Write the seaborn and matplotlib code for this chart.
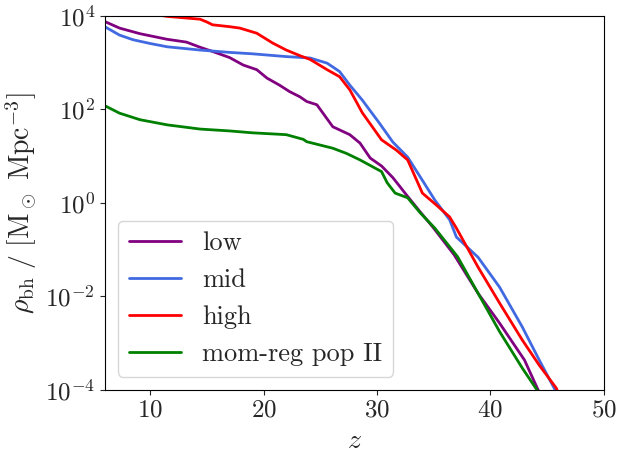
import seaborn as sns
import matplotlib
matplotlib.use("Agg")
import matplotlib.pyplot as plt
import matplotlib.ticker as mticker
import pandas as pd
import numpy as np

sns.set_style("ticks")
plt.rcParams['font.family'] = ['cmr10', 'DejaVu Serif']
plt.rcParams['mathtext.fontset'] = 'cm'
plt.rcParams['axes.unicode_minus'] = False
plt.rcParams['axes.formatter.use_mathtext'] = True

# values (z, log10 rho_bh)
z_low = [6, 7.3, 9.1, 11.5, 13.2, 14.4, 15.5, 17.0, 18.2, 19.4, 20.3, 21.4, 22.3, 23.2,
         23.8, 24.7, 26.1, 27.6, 28.5, 29.4, 30.4, 31.4, 32.6, 33.8, 34.9, 36.8, 38.9,
         40.8, 43.0, 44.2, 44.8]
lg_low = [3.88, 3.74, 3.62, 3.50, 3.44, 3.33, 3.24, 3.11, 2.95, 2.85, 2.67, 2.52, 2.38, 2.27,
          2.17, 2.10, 1.63, 1.46, 1.28, 0.96, 0.79, 0.54, 0.17, -0.19, -0.51, -1.11, -1.93,
          -2.57, -3.36, -4.0, -4.3]

z_mid = [6, 7.3, 8.5, 10.0, 11.5, 14.4, 17.0, 19.0, 22.0, 24.1, 25.6, 26.7, 27.6, 28.7,
         30.2, 31.4, 32.7, 33.8, 35.1, 36.4, 37.0, 38.9, 40.8, 42.8, 44.3, 45.7, 46.3]
lg_mid = [3.77, 3.59, 3.49, 3.41, 3.34, 3.27, 3.22, 3.19, 3.13, 3.10, 2.99, 2.81, 2.52, 2.20,
          1.71, 1.30, 0.98, 0.56, 0.06, -0.36, -0.73, -1.16, -1.80, -2.65, -3.36, -4.0, -4.3]

z_high = [6, 11.5, 14.4, 15.0, 15.5, 17.0, 17.9, 19.4, 20.8, 22.0, 23.2, 24.1, 25.6, 26.7,
          27.6, 28.7, 30.4, 31.7, 32.7, 34.0, 35.3, 36.4, 37.0, 38.9, 40.8, 42.8, 44.3,
          45.8, 46.4]
lg_high = [4.20, 3.99, 3.93, 3.87, 3.81, 3.77, 3.74, 3.63, 3.42, 3.27, 3.15, 3.07, 2.85, 2.70,
           2.42, 1.93, 1.35, 1.13, 0.92, 0.21, -0.06, -0.30, -0.54, -1.37, -2.14, -2.93, -3.47,
           -3.96, -4.3]

z_pop2 = [6, 7.3, 9.1, 11.5, 14.4, 17.0, 19.0, 22.0, 23.5, 23.8, 26.1, 27.3, 28.5, 30.4,
          30.9, 31.6, 32.7, 33.8, 35.1, 37.1, 38.9, 40.8, 42.8, 44.1, 44.6]
lg_pop2 = [2.08, 1.92, 1.78, 1.67, 1.58, 1.54, 1.50, 1.46, 1.36, 1.31, 1.17, 1.06, 0.92, 0.67,
           0.43, 0.21, 0.11, -0.21, -0.54, -1.15, -1.93, -2.75, -3.53, -4.0, -4.3]

labels = ["low", "mid", "high", "mom-reg pop II"]
colors = ["purple", "royalblue", "red", "green"]

frames = []
for lab, z, lg in zip(labels, [z_low, z_mid, z_high, z_pop2],
                      [lg_low, lg_mid, lg_high, lg_pop2]):
    frames.append(pd.DataFrame({"z": z, "rho": 10.0 ** np.array(lg), "model": lab}))
df = pd.concat(frames, ignore_index=True)

fig = plt.figure(figsize=(6.2, 4.55), dpi=100)
ax = fig.add_axes([0.169, 0.143, 0.805, 0.822])

sns.lineplot(data=df, x="z", y="rho", hue="model", hue_order=labels,
             palette=dict(zip(labels, colors)), lw=2, sort=False,
             estimator=None, ax=ax)

ax.set_yscale("log")
ax.set_xlim(6, 50)
ax.set_ylim(1e-4, 1e4)
ax.yaxis.set_major_locator(mticker.FixedLocator([1e-4, 1e-2, 1, 1e2, 1e4]))
ax.yaxis.set_minor_locator(mticker.NullLocator())
ax.set_xticks([10, 20, 30, 40, 50])
ax.tick_params(labelsize=18)
for s in ax.spines.values():
    s.set_color("black")

ax.set_xlabel(r"$z$", fontsize=20)
ax.set_ylabel(r"$\rho_{\rm bh}\ /\ [{\rm M}_\odot\ {\rm Mpc}^{-3}]$", fontsize=20)

leg = ax.legend(loc="lower left", fontsize=19, frameon=True)
leg.set_title(None)

fig.savefig("out.png", dpi=100)
